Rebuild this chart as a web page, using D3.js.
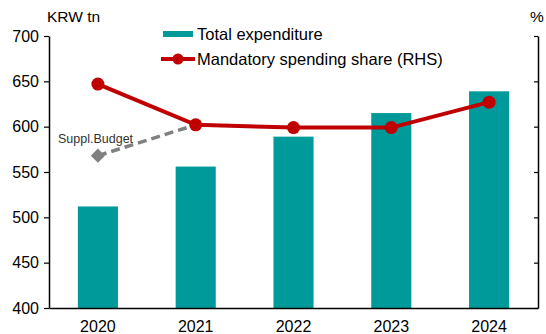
<!DOCTYPE html>
<html>
<head>
<meta charset="utf-8">
<script src="https://cdn.jsdelivr.net/npm/d3@7"></script>
<style>
  html, body { margin: 0; padding: 0; background: #fff; }
  svg { display: block; font-family: "Liberation Sans", Arial, sans-serif; }
</style>
</head>
<body>
<svg id="chart" width="546" height="334"></svg>
<script>
// Budget data (KRW tn) and mandatory spending share (plotted on unlabelled RHS)
const years = ["2020", "2021", "2022", "2023", "2024"];
const totalExpenditure = [512, 556, 589, 615, 639];
const mandatoryShare = [647, 602, 599, 599, 627];
const supplBudget = [{ year: "2020", value: 568 }, { year: "2021", value: 602 }];
const leftTicks = [400, 450, 500, 550, 600, 650, 700];

const teal = "#009a9a";
const red = "#c00000";
const grey = "#808080";

const svg = d3.select("#chart");
const margin = { left: 49, right: 8, top: 36, bottom: 26 };
const W = 546, H = 334;
const x0 = margin.left, x1 = W - margin.right;
const y0 = H - margin.bottom, y1 = margin.top;

const x = d3.scaleBand().domain(years).range([x0, x1]).paddingInner(0.59).paddingOuter(0.295);
const y = d3.scaleLinear().domain([400, 700]).range([y0, y1]);
const yR = d3.scaleLinear().domain([400, 700]).range([y0, y1]);
const cx = d => x(d) + x.bandwidth() / 2;

// Bars
svg.append("g").selectAll("rect").data(years).join("rect")
  .attr("x", d => x(d))
  .attr("width", x.bandwidth())
  .attr("y", (d, i) => y(totalExpenditure[i]))
  .attr("height", (d, i) => y0 - y(totalExpenditure[i]))
  .attr("fill", teal);

// Left axis
const gl = svg.append("g").attr("transform", `translate(${x0},0)`)
  .call(d3.axisLeft(y).tickValues(leftTicks).tickSize(5).tickPadding(5).tickSizeOuter(0));
gl.select(".domain").attr("stroke", "#000").attr("stroke-width", 1.5);
gl.selectAll(".tick line").attr("stroke", "#000").attr("stroke-width", 1.2);
gl.selectAll(".tick text").attr("font-size", 16).attr("fill", "#000")
  .attr("font-family", "Liberation Sans, Arial, sans-serif");

// Right axis (ticks inward, no labels)
const gr = svg.append("g").attr("transform", `translate(${x1},0)`)
  .call(d3.axisRight(yR).tickValues(leftTicks).tickSize(-4).tickSizeOuter(0).tickFormat(""));
gr.select(".domain").attr("stroke", "#000").attr("stroke-width", 1.5);
gr.selectAll(".tick line").attr("stroke", "#000").attr("stroke-width", 1.2);

// Bottom axis
const gb = svg.append("g").attr("transform", `translate(0,${y0})`)
  .call(d3.axisBottom(x).tickSize(0).tickPadding(12.5).tickSizeOuter(0));
gb.select(".domain").attr("stroke", "#000").attr("stroke-width", 1.5);
gb.selectAll(".tick text").attr("font-size", 16).attr("fill", "#000")
  .attr("font-family", "Liberation Sans, Arial, sans-serif");

// Supplementary budget dashed line
svg.append("path")
  .datum(supplBudget)
  .attr("d", d3.line().x(d => cx(d.year)).y(d => yR(d.value)))
  .attr("fill", "none").attr("stroke", grey).attr("stroke-width", 3.5)
  .attr("stroke-dasharray", "9,5");
svg.append("path")
  .attr("d", d3.symbol(d3.symbolSquare, 100)())
  .attr("transform", `translate(${cx(supplBudget[0].year)},${yR(supplBudget[0].value)}) rotate(45)`)
  .attr("fill", grey);
svg.append("text")
  .attr("x", 58).attr("y", 143)
  .attr("font-size", 12.5).attr("fill", "#333")
  .text("Suppl.Budget");

// Mandatory spending share line
svg.append("path")
  .datum(mandatoryShare)
  .attr("d", d3.line().x((d, i) => cx(years[i])).y(d => yR(d)))
  .attr("fill", "none").attr("stroke", red).attr("stroke-width", 4);
svg.append("g").selectAll("circle").data(mandatoryShare).join("circle")
  .attr("cx", (d, i) => cx(years[i]))
  .attr("cy", d => yR(d))
  .attr("r", 6.5)
  .attr("fill", red);

// Axis titles
svg.append("text").attr("x", 47).attr("y", 22).attr("font-size", 15.5).text("KRW tn");
svg.append("text").attr("x", 530).attr("y", 22).attr("font-size", 15.5).text("%");

// Legend
const lg = svg.append("g");
lg.append("rect").attr("x", 163).attr("y", 31).attr("width", 30).attr("height", 6).attr("fill", teal);
lg.append("text").attr("x", 197).attr("y", 40).attr("font-size", 16.5).text("Total expenditure");
lg.append("line").attr("x1", 161).attr("x2", 195).attr("y1", 59).attr("y2", 59)
  .attr("stroke", red).attr("stroke-width", 4);
lg.append("circle").attr("cx", 178).attr("cy", 59).attr("r", 5.5).attr("fill", red);
lg.append("text").attr("x", 197).attr("y", 64.5).attr("font-size", 16.5).text("Mandatory spending share (RHS)");
</script>
</body>
</html>
